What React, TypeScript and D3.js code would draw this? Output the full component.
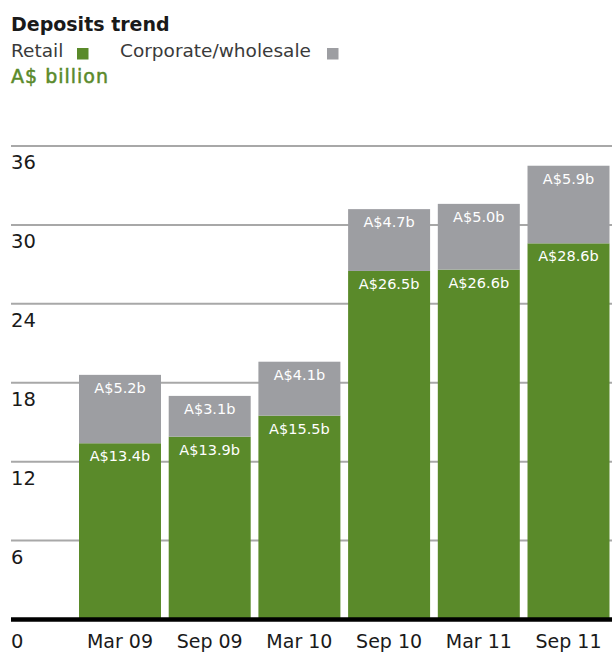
import React from "react";
import * as d3 from "d3";

const categories = ["Mar 09", "Sep 09", "Mar 10", "Sep 10", "Mar 11", "Sep 11"];
const retail = [13.4, 13.9, 15.5, 26.5, 26.6, 28.6];
const corporate = [5.2, 3.1, 4.1, 4.7, 5.0, 5.9];
const yTicks = [0, 6, 12, 18, 24, 30, 36];

const GREEN = "#5a8a2a";
const GRAY = "#9d9ea2";

export default function App() {
  const W = 612, H = 653;
  const y = d3.scaleLinear().domain([0, 36]).range([619.5, 146]);
  const x = d3.scaleBand().domain(categories).range([79, 609.5]).paddingInner(0.086).paddingOuter(0);
  const font = "'DejaVu Sans', Verdana, sans-serif";
  return (
    <svg width={W} height={H} style={{ position: "absolute", left: 0, top: 0 }} fontFamily={font}>
      <rect width={W} height={H} fill="#fff" />
      <text x={11} y={31} fontSize={19} fontWeight="bold" fill="#1a1a1a">Deposits trend</text>
      <text x={11} y={57} fontSize={18.5} fill="#3a3a3a">Retail</text>
      <rect x={77} y={48} width={11.5} height={11.5} fill={GREEN} />
      <text x={120} y={57} fontSize={18.5} fill="#3a3a3a">Corporate/wholesale</text>
      <rect x={327} y={48} width={11.5} height={11.5} fill={GRAY} />
      <text x={11} y={83} fontSize={19} fill={GREEN} stroke={GREEN} strokeWidth={0.5} letterSpacing={1}>A$ billion</text>
      {yTicks.filter(t => t > 0).map(t => (
        <g key={t}>
          <line x1={11} x2={612} y1={y(t)} y2={y(t)} stroke="#a8a8a8" strokeWidth={2} />
          <text x={11} y={y(t) + 23} fontSize={19.5} fill="#1a1a1a">{t}</text>
        </g>
      ))}
      {categories.map((c, i) => {
        const bx = x(c)!;
        const bw = x.bandwidth();
        const r0 = y(0), r1 = y(retail[i]), c1 = y(retail[i] + corporate[i]);
        return (
          <g key={c}>
            <rect x={bx} y={r1} width={bw} height={r0 - r1} fill={GREEN} />
            <rect x={bx} y={c1} width={bw} height={r1 - c1} fill={GRAY} />
            <text x={bx + bw / 2} y={r1 + 18} fontSize={14.5} fill="#fff" textAnchor="middle">A${retail[i].toFixed(1)}b</text>
            <text x={bx + bw / 2} y={c1 + 18} fontSize={14.5} fill="#fff" textAnchor="middle">A${corporate[i].toFixed(1)}b</text>
            <text x={bx + bw / 2} y={648} fontSize={19} fill="#1a1a1a" textAnchor="middle">{c}</text>
          </g>
        );
      })}
      <line x1={11} x2={612} y1={y(0)} y2={y(0)} stroke="#000" strokeWidth={4.5} />
      <text x={11} y={648} fontSize={19.5} fill="#1a1a1a">0</text>
    </svg>
  );
}
